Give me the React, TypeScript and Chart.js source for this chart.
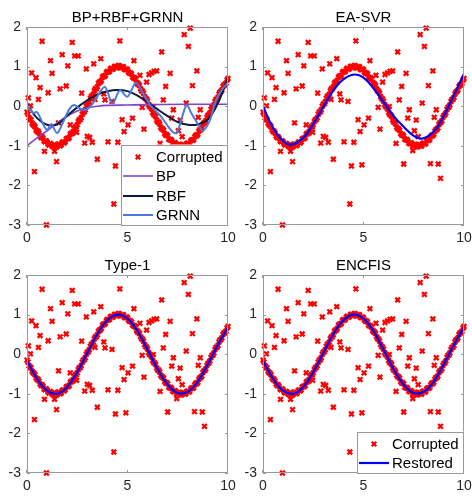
import React, { useEffect, useRef } from "react";
import { Chart, registerables } from "chart.js";

Chart.register(...registerables);

// ---------- data ----------
const xTicks = [0, 5, 10];
const yTicks = [2, 1, 0, -1, -2, -3];

// corrupted signal: samples on the curve (two interleaved sample sets) + outliers
const cleanX = [
  0, 0.1, 0.2, 0.3, 0.4, 0.5, 0.6, 0.7, 0.8, 0.9,
  1.0, 1.1, 1.2, 1.3, 1.4, 1.5, 1.6, 1.7, 1.8, 1.9,
  2.0, 2.1, 2.2, 2.3, 2.4, 2.5, 2.6, 2.7, 2.8, 2.9,
  3.0, 3.1, 3.2, 3.3, 3.4, 3.5, 3.6, 3.7, 3.8, 3.9,
  4.0, 4.1, 4.2, 4.3, 4.4, 4.5, 4.6, 4.7, 4.8, 4.9,
  5.0, 5.1, 5.2, 5.3, 5.4, 5.5, 5.6, 5.7, 5.8, 5.9,
  6.0, 6.1, 6.2, 6.3, 6.4, 6.5, 6.6, 6.7, 6.8, 6.9,
  7.0, 7.1, 7.2, 7.3, 7.4, 7.5, 7.6, 7.7, 7.8, 7.9,
  8.0, 8.1, 8.2, 8.3, 8.4, 8.5, 8.6, 8.7, 8.8, 8.9,
  9.0, 9.1, 9.2, 9.3, 9.4, 9.5, 9.6, 9.7, 9.8, 9.9,
  10.0,
];
const cleanY = [
  -0.15, -0.29, -0.34, -0.47, -0.52, -0.64, -0.68, -0.79, -0.81, -0.9,
  -0.9, -0.98, -0.96, -1.02, -0.98, -1.02, -0.96, -0.98, -0.9, -0.9,
  -0.81, -0.79, -0.68, -0.64, -0.52, -0.47, -0.34, -0.29, -0.15, -0.09,
  0.05, 0.11, 0.25, 0.3, 0.44, 0.49, 0.61, 0.65, 0.76, 0.78,
  0.88, 0.88, 0.96, 0.95, 1.01, 0.98, 1.02, 0.97, 0.99, 0.92,
  0.92, 0.83, 0.81, 0.71, 0.68, 0.56, 0.52, 0.39, 0.33, 0.19,
  0.13, -0.01, -0.07, -0.21, -0.26, -0.4, -0.45, -0.57, -0.61, -0.73,
  -0.75, -0.85, -0.87, -0.95, -0.94, -1.0, -0.98, -1.02, -0.97, -1.0,
  -0.93, -0.94, -0.85, -0.84, -0.73, -0.71, -0.59, -0.55, -0.42, -0.37,
  -0.23, -0.17, -0.03, 0.03, 0.17, 0.22, 0.36, 0.41, 0.54, 0.58,
  0.7,
];
const cleanX2 = [
  0.05, 0.15, 0.25, 0.35, 0.45, 0.55, 0.65, 0.75, 0.85, 0.95,
  1.05, 1.15, 1.25, 1.35, 1.45, 1.55, 1.65, 1.75, 1.85, 1.95,
  2.05, 2.15, 2.25, 2.35, 2.45, 2.55, 2.65, 2.75, 2.85, 2.95,
  3.05, 3.15, 3.25, 3.35, 3.45, 3.55, 3.65, 3.75, 3.85, 3.95,
  4.05, 4.15, 4.25, 4.35, 4.45, 4.55, 4.65, 4.75, 4.85, 4.95,
  5.05, 5.15, 5.25, 5.35, 5.45, 5.55, 5.65, 5.75, 5.85, 5.95,
  6.05, 6.15, 6.25, 6.35, 6.45, 6.55, 6.65, 6.75, 6.85, 6.95,
  7.05, 7.15, 7.25, 7.35, 7.45, 7.55, 7.65, 7.75, 7.85, 7.95,
  8.05, 8.15, 8.25, 8.35, 8.45, 8.55, 8.65, 8.75, 8.85, 8.95,
  9.05, 9.15, 9.25, 9.35, 9.45, 9.55, 9.65, 9.75, 9.85, 9.95,
];
const cleanY2 = [
  -0.2, -0.34, -0.43, -0.48, -0.6, -0.63, -0.75, -0.77, -0.88, -0.87,
  -0.96, -0.94, -1.01, -0.97, -1.03, -0.96, -1.0, -0.92, -0.93, -0.83,
  -0.82, -0.71, -0.69, -0.56, -0.52, -0.39, -0.34, -0.2, -0.14, 0.0,
  0.06, 0.2, 0.26, 0.39, 0.44, 0.57, 0.61, 0.73, 0.75, 0.85,
  0.86, 0.94, 0.93, 1.0, 0.97, 1.03, 0.97, 1.0, 0.93, 0.94,
  0.86, 0.84, 0.74, 0.72, 0.6, 0.56, 0.44, 0.38, 0.24, 0.18,
  0.04, -0.02, -0.16, -0.22, -0.35, -0.4, -0.53, -0.57, -0.69, -0.72,
  -0.83, -0.84, -0.93, -0.92, -1.0, -0.96, -1.03, -0.97, -1.01, -0.94,
  -0.96, -0.87, -0.86, -0.77, -0.74, -0.63, -0.59, -0.46, -0.41, -0.28,
  -0.22, -0.08, -0.02, 0.12, 0.17, 0.31, 0.37, 0.5, 0.54, 0.66,
];

const outlierX = [
  0.07, 0.17, 0.23, 0.45, 0.65, 0.57, 0.75, 0.37, 0.87, 0.97,
  1.05, 1.17, 1.25, 1.37, 1.47, 1.57, 1.65, 1.75, 1.95, 2.03,
  2.15, 2.25, 2.37, 2.55, 2.47, 2.72, 2.87, 2.95, 3.0, 3.12,
  3.25, 3.32, 3.38, 3.5, 3.67, 3.82, 3.88, 4.03, 4.23, 4.32,
  4.4, 4.52, 4.62, 4.73, 4.83, 4.92, 5.03, 5.25, 5.32, 5.62,
  5.48, 5.82, 5.73, 5.95, 6.07, 6.2, 6.32, 6.45, 6.28, 6.62,
  6.7, 6.78, 6.9, 7.0, 7.12, 7.2, 7.28, 7.45, 7.53, 7.62,
  7.72, 7.82, 7.92, 8.03, 8.12, 8.23, 8.33, 8.45, 8.52, 8.62,
  8.72, 8.83,
];
const outlierY = [
  0.21, 0.01, 0.84, 0.72, 0.47, 0.17, 1.64, -1.65, -1.14, -3.0,
  0.34, 1.15, 0.83, -1.14, -1.4, -0.42, 0.44, 1.3, 0.51, 1.02,
  -0.47, 1.61, 1.27, 1.27, -0.66, 0.33, -0.93, 0.94, -0.76, -0.79,
  -0.91, 1.07, 0.17, -1.34, 1.2, 0.31, 0.16, -0.9, 0.12, -2.47,
  -1.51, -0.91, 1.65, -0.34, -0.64, -1.48, -0.47, -0.3, 1.15, 0.78,
  0.59, -0.58, -0.03, 0.61, 0.8, 0.84, 0.88, 0.89, -0.01, -0.94,
  1.37, 0.16, 0.5, -1.46, 0.83, -0.3, -0.09, -1.12, -0.62, -0.35,
  -0.77, 1.81, 0.08, 1.51, 1.97, 0.52, -1.45, 0.89, -0.28, -0.09,
  -1.46, -1.82,
];

const bpX = [0, 0.5, 1, 1.5, 2, 2.5, 3, 3.5, 4, 5, 6, 8, 10];
const bpY = [-1.0, -0.8, -0.62, -0.42, -0.25, -0.12, -0.04, 0.0, 0.02, 0.03, 0.04, 0.05, 0.05];

const rbfX = [0, 0.5, 1, 1.5, 2, 2.5, 3, 3.5, 4, 4.5, 5, 5.5, 6, 6.5, 7, 7.5, 8, 8.5, 9, 9.5, 10];
const rbfY = [0.05, -0.3, -0.47, -0.46, -0.24, -0.03, 0.15, 0.3, 0.38, 0.41, 0.38, 0.27, 0.1, -0.08, -0.25, -0.4, -0.47, -0.46, -0.33, 0.08, 0.73];

const grnnX = [0, 0.3, 0.5, 0.8, 1.0, 1.2, 1.5, 1.8, 2.1, 2.35, 2.6, 2.9, 3.2, 3.5, 3.88, 4.25, 4.62, 5.0, 5.42, 5.8, 6.1, 6.4, 6.7, 7.0, 7.25, 7.45, 7.7, 7.95, 8.2, 8.5, 8.75, 9.1, 9.4, 9.7, 10];
const grnnY = [0.03, -0.17, -0.15, -0.45, -0.6, -0.45, -0.68, -0.4, -0.08, 0.03, -0.05, -0.1, 0.02, 0.25, 0.49, 0.07, 0.4, 0.24, 0.59, 0.3, 0.05, -0.12, -0.28, -0.5, -0.65, -0.68, -0.3, 0.03, -0.2, -0.45, -0.62, -0.35, 0.15, 0.42, 0.6];

const svrX = [0, 0.5, 1, 1.4, 2, 2.5, 3, 3.5, 4, 4.55, 5, 5.5, 6, 6.5, 7, 7.5, 7.9, 8.5, 9, 9.5, 10];
const svrY = [0.0, -0.55, -0.88, -0.97, -0.8, -0.45, -0.02, 0.4, 0.68, 0.8, 0.72, 0.45, 0.1, -0.25, -0.52, -0.75, -0.82, -0.64, -0.24, 0.28, 0.82];

const type1X = [0, 0.5, 1, 1.5, 2, 2.5, 3, 3.5, 4, 4.5, 5, 5.5, 6, 6.5, 7, 7.5, 8, 8.5, 9, 9.5, 10];
const type1Y = [-0.17, -0.62, -0.92, -1.0, -0.83, -0.45, 0.03, 0.51, 0.86, 1.0, 0.9, 0.58, 0.11, -0.38, -0.77, -0.98, -0.95, -0.69, -0.25, 0.24, 0.68];

const encfisX = [0, 0.5, 1, 1.5, 2, 2.5, 3, 3.5, 4, 4.5, 5, 5.5, 6, 6.5, 7, 7.5, 8, 8.5, 9, 9.5, 10];
const encfisY = [-0.17, -0.62, -0.92, -1.0, -0.83, -0.45, 0.03, 0.51, 0.86, 1.0, 0.9, 0.58, 0.11, -0.38, -0.77, -0.98, -0.95, -0.69, -0.25, 0.24, 0.68];

// ---------- styling ----------
const FONT = '"Liberation Sans", Arial, Helvetica, sans-serif';
const RED = "#ff0000";
const AXIS = "#9a9a9a";
const TICKTXT = "#262626";
const PANEL_W = 236;
const PANEL_H = 249;
const AREA_H = 198;

interface LineDef {
  label: string;
  xs: number[];
  ys: number[];
  color: string;
  width: number;
  tension: number;
  mono?: boolean;
}
interface PanelDef {
  title: string;
  left: number;
  top: number;
  padTop: number;
  lines: LineDef[];
  legend: boolean;
}

const panels: PanelDef[] = [
  {
    title: "BP+RBF+GRNN",
    left: 0,
    top: 0,
    padTop: 27,
    legend: true,
    lines: [
      { label: "BP", xs: bpX, ys: bpY, color: "#7f45cc", width: 1.6, tension: 0, mono: true },
      { label: "RBF", xs: rbfX, ys: rbfY, color: "#0d1a3d", width: 2, tension: 0.4 },
      { label: "GRNN", xs: grnnX, ys: grnnY, color: "#4a7ae0", width: 2, tension: 0.3 },
    ],
  },
  {
    title: "EA-SVR",
    left: 236,
    top: 0,
    padTop: 27,
    legend: false,
    lines: [{ label: "Restored", xs: svrX, ys: svrY, color: "#0000ff", width: 2.2, tension: 0.4 }],
  },
  {
    title: "Type-1",
    left: 0,
    top: 249,
    padTop: 26,
    legend: false,
    lines: [{ label: "Restored", xs: type1X, ys: type1Y, color: "#0000ff", width: 2.2, tension: 0.4 }],
  },
  {
    title: "ENCFIS",
    left: 236,
    top: 249,
    padTop: 26,
    legend: true,
    lines: [{ label: "Restored", xs: encfisX, ys: encfisY, color: "#0000ff", width: 2.2, tension: 0.4 }],
  },
];

function drawCross(ctx: CanvasRenderingContext2D, x: number, y: number, r: number) {
  ctx.save();
  ctx.strokeStyle = RED;
  ctx.lineWidth = 2.2;
  ctx.beginPath();
  ctx.moveTo(x - r, y - r);
  ctx.lineTo(x + r, y + r);
  ctx.moveTo(x + r, y - r);
  ctx.lineTo(x - r, y + r);
  ctx.stroke();
  ctx.restore();
}

function decorPlugin(p: PanelDef) {
  return {
    id: "decor",
    afterDatasetsDraw(chart: any) {
      const { ctx, chartArea, scales } = chart;
      const { left, right, top, bottom } = chartArea;
      ctx.save();
      ctx.strokeStyle = AXIS;
      ctx.lineWidth = 1;
      ctx.strokeRect(left + 0.5, top + 0.5, right - left - 1, bottom - top - 1);
      ctx.beginPath();
      xTicks.forEach((v) => {
        const px = Math.round(scales.x.getPixelForValue(v)) - 0.5;
        ctx.moveTo(px, bottom);
        ctx.lineTo(px, bottom - 3);
        ctx.moveTo(px, top);
        ctx.lineTo(px, top + 3);
      });
      yTicks.forEach((v) => {
        const py = Math.round(scales.y.getPixelForValue(v)) + 0.5;
        ctx.moveTo(left, py);
        ctx.lineTo(left + 3, py);
        ctx.moveTo(right, py);
        ctx.lineTo(right - 3, py);
      });
      ctx.stroke();
      ctx.restore();
    },
    afterDraw(chart: any) {
      const { ctx, chartArea } = chart;
      const { left, right, bottom } = chartArea;
      ctx.save();
      // title
      ctx.fillStyle = "#000";
      ctx.font = `15px ${FONT}`;
      ctx.textAlign = "center";
      ctx.textBaseline = "alphabetic";
      ctx.fillText(p.title, (left + right) / 2, p.padTop - 5);
      // legend
      if (p.legend) {
        const items = [{ label: "Corrupted", marker: true, color: RED, width: 2 }].concat(
          p.lines.map((l) => ({ label: l.label, marker: false, color: l.color, width: l.width }))
        );
        const bw = 107;
        const bh = 12 + (items.length - 1) * 19.5 + 10;
        const bx = right - bw;
        const by = bottom - bh;
        ctx.fillStyle = "#fff";
        ctx.fillRect(bx, by, bw, bh);
        ctx.strokeStyle = AXIS;
        ctx.lineWidth = 1;
        ctx.strokeRect(Math.round(bx) + 0.5, Math.round(by) + 0.5, bw - 1, Math.round(bh) - 1);
        ctx.font = `15px ${FONT}`;
        ctx.textAlign = "left";
        ctx.textBaseline = "middle";
        items.forEach((it, i) => {
          const y = Math.round(by + 12 + i * 19.5);
          if (it.marker) {
            drawCross(ctx, bx + 17, y, 2.3);
          } else {
            ctx.strokeStyle = it.color;
            ctx.lineWidth = it.width;
            ctx.beginPath();
            ctx.moveTo(bx + 2, y);
            ctx.lineTo(bx + 32, y);
            ctx.stroke();
          }
          ctx.fillStyle = "#000";
          ctx.fillText(it.label, bx + 35, y + 1);
        });
      }
      ctx.restore();
    },
  };
}

function makeConfig(p: PanelDef): any {
  const corrupted = cleanX
    .map((x, i) => ({ x, y: cleanY[i] }))
    .concat(cleanX2.map((x, i) => ({ x, y: cleanY2[i] })))
    .concat(outlierX.map((x, i) => ({ x, y: outlierY[i] })));
  const datasets: any[] = [
    {
      label: "Corrupted",
      data: corrupted,
      showLine: false,
      pointStyle: "crossRot",
      pointRadius: 3.3,
      pointBorderWidth: 2.3,
      pointBorderColor: RED,
      pointBackgroundColor: RED,
      clip: false,
      order: 10,
    },
  ];
  p.lines.forEach((l, i) => {
    datasets.push({
      label: l.label,
      data: l.xs.map((x, j) => ({ x, y: l.ys[j] })),
      showLine: true,
      pointRadius: 0,
      borderColor: l.color,
      borderWidth: l.width,
      tension: l.tension,
      cubicInterpolationMode: l.mono ? "monotone" : "default",
      fill: false,
      order: p.lines.length - i,
    });
  });
  const tickFont = { family: FONT, size: 14 };
  return {
    type: "scatter",
    data: { datasets },
    options: {
      responsive: false,
      maintainAspectRatio: false,
      animation: false,
      devicePixelRatio: 1,
      events: [],
      layout: { padding: { top: p.padTop, right: 8, left: 0, bottom: 0 } },
      plugins: { legend: { display: false }, tooltip: { enabled: false }, title: { display: false } },
      scales: {
        x: {
          type: "linear",
          min: 0,
          max: 10,
          afterBuildTicks: (s: any) => {
            s.ticks = xTicks.map((v) => ({ value: v }));
          },
          afterFit: (s: any) => {
            s.height = PANEL_H - p.padTop - AREA_H;
            s.paddingLeft = 0;
            s.paddingRight = 0;
          },
          grid: { display: false, drawTicks: false },
          border: { display: false },
          ticks: {
            padding: 5,
            color: TICKTXT,
            font: tickFont,
            maxRotation: 0,
            autoSkip: false,
            callback: (v: any) => String(v),
          },
        },
        y: {
          type: "linear",
          min: -3,
          max: 2,
          afterBuildTicks: (s: any) => {
            s.ticks = yTicks.map((v) => ({ value: v }));
          },
          afterFit: (s: any) => {
            s.width = 27;
            s.paddingTop = 0;
            s.paddingBottom = 0;
          },
          grid: { display: false, drawTicks: false },
          border: { display: false },
          ticks: {
            padding: 6,
            color: TICKTXT,
            font: tickFont,
            autoSkip: false,
            callback: (v: any) => String(v),
          },
        },
      },
    },
    plugins: [decorPlugin(p)],
  };
}

export default function App() {
  const canvases = useRef<(HTMLCanvasElement | null)[]>([]);
  useEffect(() => {
    document.body.style.margin = "0";
    const charts = panels.map((p, i) => new Chart(canvases.current[i] as HTMLCanvasElement, makeConfig(p)));
    return () => charts.forEach((c) => c.destroy());
  }, []);
  return (
    <div style={{ position: "relative", width: 472, height: 498, background: "#fff", overflow: "hidden" }}>
      {panels.map((p, i) => (
        <canvas
          key={i}
          ref={(el) => {
            canvases.current[i] = el;
          }}
          width={PANEL_W}
          height={PANEL_H}
          style={{ position: "absolute", left: p.left, top: p.top, width: PANEL_W, height: PANEL_H }}
        />
      ))}
    </div>
  );
}
